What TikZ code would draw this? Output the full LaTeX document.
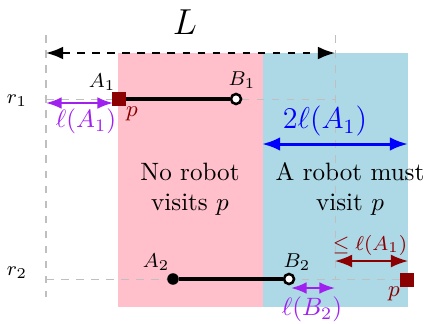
\documentclass[tikz,border=0pt]{standalone}
\usetikzlibrary{arrows.meta}
\definecolor{regionpink}{HTML}{FFC0CB}
\definecolor{regionblue}{HTML}{ADD8E6}
\definecolor{lenpurple}{HTML}{A020F0}
\definecolor{pointred}{HTML}{8B0000}
\begin{document}
\begin{tikzpicture}[
        x=0.014cm, y=-0.014cm,
        guide/.style={dashed, gray!50, thin},
        interval/.style={ultra thick},
        endfilled/.style={circle, fill=black, inner sep=0pt, minimum size=4.6pt},
        endopen/.style={circle, draw=black, fill=white, line width=1pt, inner sep=0pt, minimum size=4pt},
        pointsq/.style={rectangle, fill=pointred, inner sep=0pt, minimum size=5.2pt},
        endlabel/.style={font=\footnotesize},
        plabel/.style={font=\small, text=pointred},
        lenarrow/.style={{Latex[length=6.8pt]}-{Latex[length=6.8pt]}, thick, dashed},
        purplearrow/.style={{Latex[length=6.2pt]}-{Latex[length=6.2pt]}, thick, lenpurple},
        bluearrow/.style={{Latex[length=7.2pt]}-{Latex[length=7.2pt]}, very thick, blue},
        redarrow/.style={{Latex[length=6.8pt]}-{Latex[length=6.8pt]}, semithick, pointred}
    ]
        \useasboundingbox (0,0) rectangle (430,323);

        % Regions
        \fill[regionpink] (118,53) rectangle (263,307);
        \fill[regionblue] (263,53) rectangle (408,307);
        \node[align=center] (norobot) at (190,189) {No robot\\visits $p$};
        \node[align=center] (robot) at (350,189) {A robot must\\visit $p$};

        % Guide lines
        \coordinate (leftTop) at (46,35);
        \coordinate (leftBot) at (46,297);
        \coordinate (rightTop) at (335,35);
        \coordinate (rightBot) at (335,279);
        \coordinate (rowOneEnd) at (335,99);
        \coordinate (rowTwoEnd) at (407,279);
        \draw[guide] (leftTop) -- (leftBot);
        \draw[guide] (rightTop) -- (rightBot);
        \draw[guide] (leftTop |- rowOneEnd) -- (rowOneEnd);
        \draw[guide] (leftTop |- rowTwoEnd) -- (rowTwoEnd);

        % Length L
        \coordinate (Lleft) at (46,53);
        \coordinate (Lright) at (335,53);
        \draw[lenarrow] (Lleft) -- (Lright);
        \node[font=\Large] (Llabel) at (185,22) {$L$};

        % Row labels
        \node[font=\footnotesize] (r1) at (17,101) {$r_1$};
        \node[font=\footnotesize] (r2) at (17,273) {$r_2$};

        % Robot 1
        \node[pointsq] (A1) at (119,99) {};
        \node[endopen] (B1) at (236,99) {};
        \draw[interval] (A1) -- (B1);
        \node[endlabel] (A1lbl) at (102,82) {$A_1$};
        \node[endlabel] (B1lbl) at (242,80) {$B_1$};
        \node[plabel] (p1lbl) at (132,114) {$p$};
        \coordinate (lA1left) at (46,103);
        \coordinate (lA1right) at (113,103);
        \draw[purplearrow] (lA1left) -- (lA1right);
        \node[text=lenpurple] (lA1lbl) at (86,121) {$\ell(A_1)$};

        % Blue width
        \coordinate (wleft) at (262,144);
        \coordinate (wright) at (408,144);
        \draw[bluearrow] (wleft) -- (wright);
        \node[font=\large, text=blue] (wlbl) at (325,121) {$2\ell(A_1)$};

        % Robot 2
        \node[endfilled] (A2) at (173,279) {};
        \node[endopen] (B2) at (289,279) {};
        \draw[interval] (A2) -- (B2);
        \node[endlabel] (A2lbl) at (156,262) {$A_2$};
        \node[endlabel] (B2lbl) at (297,262) {$B_2$};
        \coordinate (lB2left) at (291,288);
        \coordinate (lB2right) at (335,288);
        \draw[purplearrow] (lB2left) -- (lB2right);
        \node[text=lenpurple] (lB2lbl) at (312,309) {$\ell(B_2)$};

        % Point p on row 2
        \node[pointsq] (P2) at (407,280) {};
        \node[plabel] (p2lbl) at (394,294) {$p$};
        \coordinate (dleft) at (335,261);
        \coordinate (dright) at (408,261);
        \draw[redarrow] (dleft) -- (dright);
        \node[font=\footnotesize, text=pointred] (dlbl) at (370,245) {$\leq \ell(A_1)$};
    \end{tikzpicture}
\end{document}
